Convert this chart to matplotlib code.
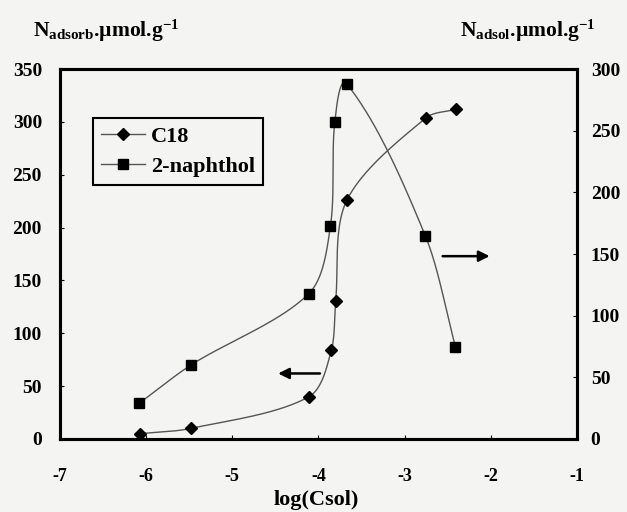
import numpy as np
import matplotlib
matplotlib.use("Agg")
import matplotlib.pyplot as plt
from matplotlib.lines import Line2D

plt.rcParams['font.family'] = ['Liberation Serif', 'DejaVu Serif']
plt.rcParams['font.weight'] = 'bold'
plt.rcParams['mathtext.fontset'] = 'custom'
plt.rcParams['mathtext.rm'] = 'Liberation Serif:bold'
plt.rcParams['mathtext.it'] = 'Liberation Serif:bold'
plt.rcParams['mathtext.bf'] = 'Liberation Serif:bold'

# Data
c18_x = [-6.07, -5.48, -4.11, -3.85, -3.80, -3.67, -2.75, -2.40]
c18_y = [5, 10, 40, 84, 131, 226, 304, 312]
naph_x = [-6.08, -5.48, -4.11, -3.86, -3.81, -3.67, -2.76, -2.41]
naph_y = [29, 60, 118, 173, 257, 288, 165, 75]
x_ticks = [-7, -6, -5, -4, -3, -2, -1]
left_ticks = [0, 50, 100, 150, 200, 250, 300, 350]
right_ticks = [0, 50, 100, 150, 200, 250, 300]


def smooth(xs, ys, scale, k=0.3, n=40):
    # Bezier smoothing with control arms proportional to segment length
    sx, sy = scale
    P = np.column_stack([np.asarray(xs, float) / sx, np.asarray(ys, float) / sy])
    m = len(P)
    T = np.zeros_like(P)
    for i in range(m):
        a = P[max(i - 1, 0)]
        b = P[min(i + 1, m - 1)]
        d = b - a
        T[i] = d / (np.hypot(*d) + 1e-12)
    out = []
    t = np.linspace(0, 1, n)[:, None]
    for i in range(m - 1):
        p1, p2 = P[i], P[i + 1]
        L = np.hypot(*(p2 - p1))
        c1 = p1 + T[i] * L * k
        c2 = p2 - T[i + 1] * L * k
        seg = ((1 - t) ** 3) * p1 + 3 * ((1 - t) ** 2) * t * c1 + 3 * (1 - t) * t ** 2 * c2 + t ** 3 * p2
        out.append(seg)
    out = np.vstack(out)
    return out[:, 0] * sx, out[:, 1] * sy


bg = '#f4f4f2'
fig = plt.figure(figsize=(6.27, 5.12), dpi=100, facecolor=bg)
ax = fig.add_axes([0.0957, 0.1426, 0.8243, 0.7224])
ax.set_facecolor(bg)
ax2 = ax.twinx()

ax.set_xlim(-7, -1)
ax.set_ylim(0, 350)
ax2.set_ylim(0, 300)

lc = '#555555'
sx1, sy1 = smooth(c18_x, c18_y, (6 / 517, 350 / 370))
sx2, sy2 = smooth(naph_x, naph_y, (6 / 517, 300 / 370))
ax.plot(sx1, sy1, color=lc, lw=1.0, zorder=2)
ax.plot(c18_x, c18_y, linestyle='none', marker='D', ms=6, color='black', zorder=3)
ax2.plot(sx2, sy2, color=lc, lw=1.0, zorder=2)
ax2.plot(naph_x, naph_y, linestyle='none', marker='s', ms=6.5, color='black', zorder=3)

h1 = Line2D([], [], color=lc, lw=1.0, marker='D', ms=6, mfc='black', mec='black')
h2 = Line2D([], [], color=lc, lw=1.0, marker='s', ms=6.5, mfc='black', mec='black')
leg = ax.legend([h1, h2], ['C18', '2-naphthol'], loc='upper left',
                bbox_to_anchor=(0.064, 0.867), frameon=True, fancybox=False,
                edgecolor='black', facecolor=bg, framealpha=1,
                prop={'family': 'Liberation Serif', 'weight': 'bold', 'size': 16},
                handlelength=2.0, borderpad=0.35, labelspacing=0.45, handletextpad=0.25,
                borderaxespad=0)
leg.get_frame().set_linewidth(1.5)

ax.annotate('', xy=(-4.50, 62), xytext=(-3.95, 62),
            arrowprops=dict(arrowstyle='-|>', color='black', lw=1.8, mutation_scale=16))
ax.annotate('', xy=(-1.98, 173), xytext=(-2.59, 173),
            arrowprops=dict(arrowstyle='-|>', color='black', lw=1.8, mutation_scale=16))

for a in (ax, ax2):
    for s in a.spines.values():
        s.set_linewidth(2.2)
ax.set_xticks(x_ticks)
ax.set_xticklabels([str(v) for v in x_ticks])
ax.set_yticks(left_ticks)
ax2.set_yticks(right_ticks)
ax.tick_params(axis='x', direction='in', length=3, width=0.8, labelsize=13, pad=21)
ax.tick_params(axis='y', direction='in', length=3, width=0.8, labelsize=14, pad=13)
ax2.tick_params(axis='y', direction='in', length=3, width=0.8, labelsize=14, pad=10)
for lab in ax.get_xticklabels() + ax.get_yticklabels() + ax2.get_yticklabels():
    lab.set_fontweight('bold')

fig.text(0.505, 0.003, 'log(Csol)', fontsize=16, fontweight='bold',
         ha='center', va='bottom')
fig.text(0.053, 0.94, r'N$_{\mathrm{adsorb}}$.µmol.g$^{\mathrm{-1}}$', fontsize=15.5,
         fontweight='bold', ha='left', va='center')
fig.text(0.733, 0.94, r'N$_{\mathrm{adsol}}$.µmol.g$^{\mathrm{-1}}$', fontsize=15.5,
         fontweight='bold', ha='left', va='center')

fig.savefig('out.png', dpi=100, facecolor=fig.get_facecolor())
